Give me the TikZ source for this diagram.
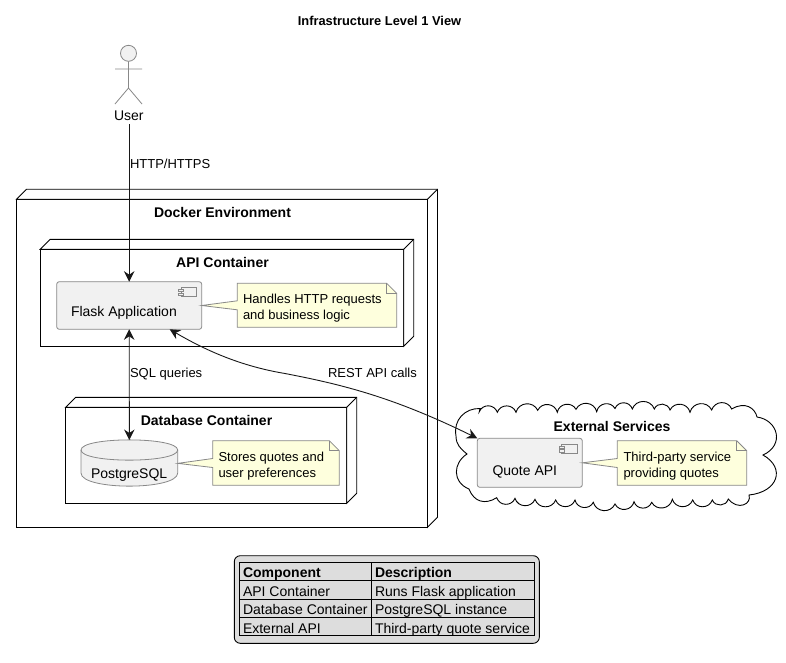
\documentclass[tikz,border=0pt]{standalone}
\usepackage{fontspec}
\setmainfont{Liberation Sans}
\usetikzlibrary{arrows.meta}
\definecolor{inkdark}{HTML}{181818}
\definecolor{partgray}{HTML}{888888}
\definecolor{partfill}{HTML}{F1F1F1}
\definecolor{notefill}{HTML}{FEFFDD}
\definecolor{tablefill}{HTML}{DDDDDD}
\tikzset{
  edge/.style={draw=black,line width=0.9pt},
  conn/.style={draw=inkdark,line width=0.9pt,{Stealth[length=10.5pt,width=10.5pt,inset=3.5pt]}-{Stealth[length=10.5pt,width=10.5pt,inset=3.5pt]}},
  connone/.style={draw=inkdark,line width=0.9pt,-{Stealth[length=10.5pt,width=10.5pt,inset=3.5pt]}},
  frame3d/.style={edge,fill=white,rectangle,inner sep=0,outer sep=0},
  comp/.style={draw=partgray,line width=0.8pt,fill=partfill,rectangle,rounded corners=2.5pt,inner sep=0,outer sep=0},
  hole/.style={rectangle,inner sep=0,outer sep=0},
  notebody/.style={rectangle,inner sep=0,outer sep=0},
  notepath/.style={draw=partgray,line width=0.8pt,fill=notefill},
  txt/.style={anchor=base west,inner sep=0,outer sep=0,font=\fontsize{13}{16}\selectfont,text=black},
  comptxt/.style={txt,font=\fontsize{14}{16}\selectfont},
  notetxt/.style={txt,font=\fontsize{13}{16}\selectfont},
  btxt/.style={anchor=base,inner sep=0,outer sep=0,font=\fontsize{14}{16}\bfseries\selectfont,text=black},
  tabtxt/.style={txt,font=\fontsize{14}{16}\selectfont},
  tabbold/.style={txt,font=\fontsize{14}{16}\bfseries\selectfont},
  puff/.style={bend left=70,looseness=1.25},
}
\newcommand{\threed}[1]{%
  \draw[edge,fill=white] (#1.north west) -- ++(10,-10) -- ([shift={(10,-10)}]#1.north east) -- ([shift={(10,-10)}]#1.south east) -- (#1.south east) -- (#1.north east) -- cycle;
  \draw[edge] (#1.north east) -- ([shift={(10,-10)}]#1.north east);
}
\newcommand{\iconat}[1]{%
  \draw[draw=partgray,line width=0.7pt,fill=partfill] ([shift={(-20.7,5.6)}]#1.north east) rectangle ([shift={(-5,15)}]#1.north east);
  \draw[draw=partgray,line width=0.7pt,fill=partfill] ([shift={(-23.4,7.6)}]#1.north east) rectangle ([shift={(-18.4,10)}]#1.north east);
  \draw[draw=partgray,line width=0.7pt,fill=partfill] ([shift={(-23.4,11.4)}]#1.north east) rectangle ([shift={(-18.4,13.8)}]#1.north east);
}
\newcommand{\notewith}[2]{%
  \draw[notepath] (#1.north west) -- ([xshift=-10]#1.north east) -- ([shift={(0,10)}]#1.north east) -- (#1.south east) -- (#1.south west) -- ([shift={(0,4.5)}]#1.west) -- (#2.east) -- ([shift={(0,-4.5)}]#1.west) -- cycle;
  \draw[notepath,fill=none] ([xshift=-10]#1.north east) -- ([shift={(-10,10)}]#1.north east) -- ([shift={(0,10)}]#1.north east);
}
\begin{document}
\begin{tikzpicture}[x=1pt,y=-1pt]
\useasboundingbox (0,0) rectangle (786,662);
\fill[white] (0,0) rectangle (786,662);

\node[btxt,font=\fontsize{12.85}{16}\bfseries\selectfont] (title) at (379.5,25) {Infrastructure Level 1 View};

% actor
\draw[draw=partgray,line width=0.8pt,fill=partfill] (128.5,53.3) circle (8);
\draw[draw=partgray,line width=0.8pt] (128.5,61.3) -- (128.5,88) (115,69) -- (142,69) (115,104) -- (128.5,88) -- (142,104);
\node[anchor=base,inner sep=0,font=\fontsize{14}{16}\selectfont] (userbase) at (128.8,120) {User};
\coordinate (user) at (129.2,124);

% docker
\node[frame3d,minimum width=411,minimum height=328] (docker) at (222,363.2) {};
\threed{docker}
\node[btxt] (dockerlab) at (222.5,217) {Docker Environment};

% api container
\node[frame3d,minimum width=363.4,minimum height=97] (api) at (222,297.8) {};
\threed{api}
\node[btxt] (apilab) at (222.5,267) {API Container};
\node[comp,minimum width=145,minimum height=47.6] (flask) at (129.2,305.5) {};
\iconat{flask}
\node[comptxt] (flasklab) at (71,316) {Flask Application};
\node[notebody,minimum width=159.4,minimum height=44] (flasknote) at (317,305.3) {};
\notewith{flasknote}{flask}
\node[notetxt] (flasknote1) at (243,303) {Handles HTTP requests};
\node[notetxt] (flasknote2) at (243,319) {and business logic};

% database container
\node[frame3d,minimum width=281,minimum height=96] (dbc) at (206.2,455.3) {};
\threed{dbc}
\node[btxt] (dbclab) at (206.5,425) {Database Container};
\node[hole,minimum width=96.7,minimum height=46.7] (db) at (129.35,463.35) {};
\draw[draw=partgray,line width=0.8pt,fill=partfill] (db.west |- 0,450) .. controls (81,436.5) and (177.7,436.5) .. (177.7,450) -- (177.7,473) .. controls (177.7,490.5) and (81,490.5) .. (81,473) -- cycle;
\draw[draw=partgray,line width=0.8pt] (81,450) .. controls (81,463.5) and (177.7,463.5) .. (177.7,450);
\node[comptxt] (dblab) at (91,478) {PostgreSQL};
\node[notebody,minimum width=126.6,minimum height=44.6] (dbnote) at (276,463) {};
\notewith{dbnote}{db}
\node[notetxt] (dbnote1) at (218.5,461) {Stores quotes and};
\node[notetxt] (dbnote2) at (218.5,477) {user preferences};

% cloud
\draw[edge,fill=white] (479.3,411.7)
  to[puff] (497.3,412.3) to[puff] (516,412.3) to[puff] (537.7,410.3) to[puff] (557.3,412.3)
  to[puff] (576,409.3) to[puff] (596.7,411.7) to[puff] (615,408.5) to[puff] (632.3,409)
  to[puff] (654.3,409) to[puff] (670,410) to[puff] (690,412.3) to[puff] (711.7,410)
  to[puff] (731.7,409)
  .. controls (745,401) and (755,408) .. (757,417)
  .. controls (778,420) and (785,445) .. (763,455)
  .. controls (786,468) and (778,492) .. (749,495)
  .. controls (752,504) and (738,511) .. (728.3,499)
  to[puff] (712.3,500) to[puff] (692.7,500) to[puff] (672.3,499.3) to[puff] (651.7,502.3)
  to[puff] (634,501.7) to[puff] (615,504) to[puff] (593.3,502.3) to[puff] (575,500)
  to[puff] (555.7,500) to[puff] (535,499.3) to[puff] (515,498.3) to[puff] (496.7,497.7)
  .. controls (485,505) and (474,502) .. (469,489)
  .. controls (452,482) and (453,463) .. (467,454)
  .. controls (461,449) and (456,445) .. (456,436)
  .. controls (453,420) and (465,408) .. (480,408.5) -- cycle;
\node[btxt] (extlab) at (612,431) {External Services};
\node[comp,minimum width=105,minimum height=49] (quote) at (529.8,462.8) {};
\iconat{quote}
\node[comptxt] (quotelab) at (492.5,475) {Quote API};
\node[notebody,minimum width=129.4,minimum height=44.6] (quotenote) at (682,463) {};
\notewith{quotenote}{quote}
\node[notetxt] (quotenote1) at (623.5,461) {Third-party service};
\node[notetxt] (quotenote2) at (623.5,477) {providing quotes};

% connectors
\draw[connone] (user) -- (flask.north);
\node[txt] (httplab) at (130,168.5) {HTTP/HTTPS};
\draw[conn] (flask.south) -- (db.north);
\node[txt] (sqllab) at (130,377) {SQL queries};
\coordinate (restmid) at (285,373.5);
\draw[conn] ([xshift=-32]flask.south east) .. controls (205,350) and (240,366) .. (restmid) .. controls (345,385) and (395,398) .. (quote.north west);
\node[txt] (restlab) at (328,377) {REST API calls};

% table
\draw[draw=black,line width=0.9pt,fill=tablefill,rounded corners=6pt] (234.3,555.7) rectangle (539.3,643.3);
\node[hole,minimum width=294.6,minimum height=73.4] (tbl) at (387,599) {};
\draw[edge] (tbl.north west) rectangle (tbl.south east);
\draw[edge] (tbl.north -| 371.7,0) -- (tbl.south -| 371.7,0);
\draw[edge] (tbl.west |- 0,580.7) -- (tbl.east |- 0,580.7);
\draw[edge] (tbl.west |- 0,599) -- (tbl.east |- 0,599);
\draw[edge] (tbl.west |- 0,617.4) -- (tbl.east |- 0,617.4);
\node[tabbold] (t00) at (243,577) {Component};
\node[tabbold] (t01) at (375,577) {Description};
\node[tabtxt] (t10) at (243,596) {API Container};
\node[tabtxt] (t11) at (375,596) {Runs Flask application};
\node[tabtxt] (t20) at (243,614) {Database Container};
\node[tabtxt] (t21) at (375,614) {PostgreSQL instance};
\node[tabtxt] (t30) at (243,633) {External API};
\node[tabtxt] (t31) at (375,633) {Third-party quote service};
\end{tikzpicture}
\end{document}
